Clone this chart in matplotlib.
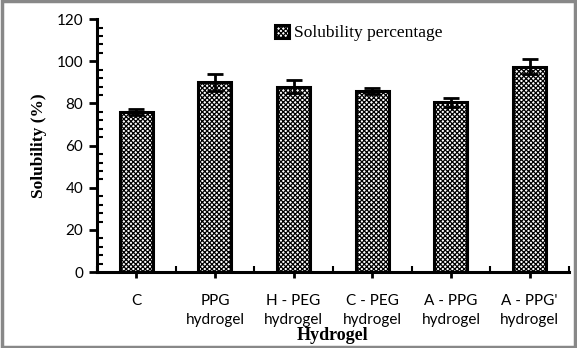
import numpy as np
import matplotlib
matplotlib.use('Agg')
import matplotlib.pyplot as plt
from matplotlib.patches import Rectangle
from matplotlib.ticker import MultipleLocator

# Solubility of the hydrogels
categories = ['C', 'PPG\nhydrogel', 'H - PEG\nhydrogel', 'C - PEG\nhydrogel',
              'A - PPG\nhydrogel', "A - PPG'\nhydrogel"]
solubility = [76.0, 90.0, 88.0, 86.0, 80.5, 97.5]
errors = [1.5, 4.0, 3.0, 1.5, 2.0, 3.5]
series_name = 'Solubility percentage'

SERIF = 'Liberation Serif'
SANS = 'Lato'
plt.rcParams['hatch.linewidth'] = 0.9

fig = plt.figure(figsize=(5.77, 3.48), dpi=100)
ax = fig.add_axes([0.168, 0.218, 0.818, 0.727])

x = np.arange(len(categories))
ax.bar(x, solubility, width=0.42, color='white', edgecolor='black', linewidth=2.2,
       hatch='xxxxxxx', label=series_name, zorder=2)
ax.errorbar(x, solubility, yerr=errors, fmt='none', ecolor='black', elinewidth=2,
            capsize=6, capthick=2, zorder=3)

ax.set_xlim(-0.5, len(categories) - 0.5)
ax.set_ylim(0, 120)

# y axis: majors every 20 outside, minors every 4 inside
ax.yaxis.set_major_locator(MultipleLocator(20))
ax.yaxis.set_minor_locator(MultipleLocator(4))
ax.tick_params(axis='y', which='major', direction='out', length=6, width=2,
               labelsize=11, pad=4)
ax.tick_params(axis='y', which='minor', direction='in', length=4, width=1.5)

# x axis: ticks under the bars, small marks at the category boundaries
ax.set_xticks(x)
ax.set_xticklabels(categories)
ax.set_xticks(np.arange(len(categories) + 1) - 0.5, minor=True)
ax.tick_params(axis='x', which='major', direction='out', length=4, width=2,
               labelsize=11, pad=12)
ax.tick_params(axis='x', which='minor', direction='in', length=4, width=1.5)
for lab in ax.get_xticklabels() + ax.get_yticklabels():
    lab.set_fontfamily(SANS)
for lab in ax.get_xticklabels():
    lab.set_linespacing(1.45)

for side in ['top', 'right']:
    ax.spines[side].set_visible(False)
for side in ['left', 'bottom']:
    ax.spines[side].set_linewidth(2.2)

ax.set_ylabel('Solubility (%)', fontfamily=SERIF, fontweight='bold', fontsize=12.5, labelpad=7)
ax.set_xlabel('Hydrogel', fontfamily=SERIF, fontweight='bold', fontsize=13, labelpad=0)

ax.legend(loc='upper center', bbox_to_anchor=(0.555, 1.04), frameon=False,
          prop={'family': SERIF, 'size': 12.5}, handlelength=0.8, handleheight=0.8,
          handletextpad=0.3)

# grey frame round the whole chart
fig.patches.append(Rectangle((0.003, 0.004), 0.993, 0.992, transform=fig.transFigure,
                             fill=False, edgecolor='#888888', linewidth=2.5))

fig.savefig('out.png', dpi=100)
